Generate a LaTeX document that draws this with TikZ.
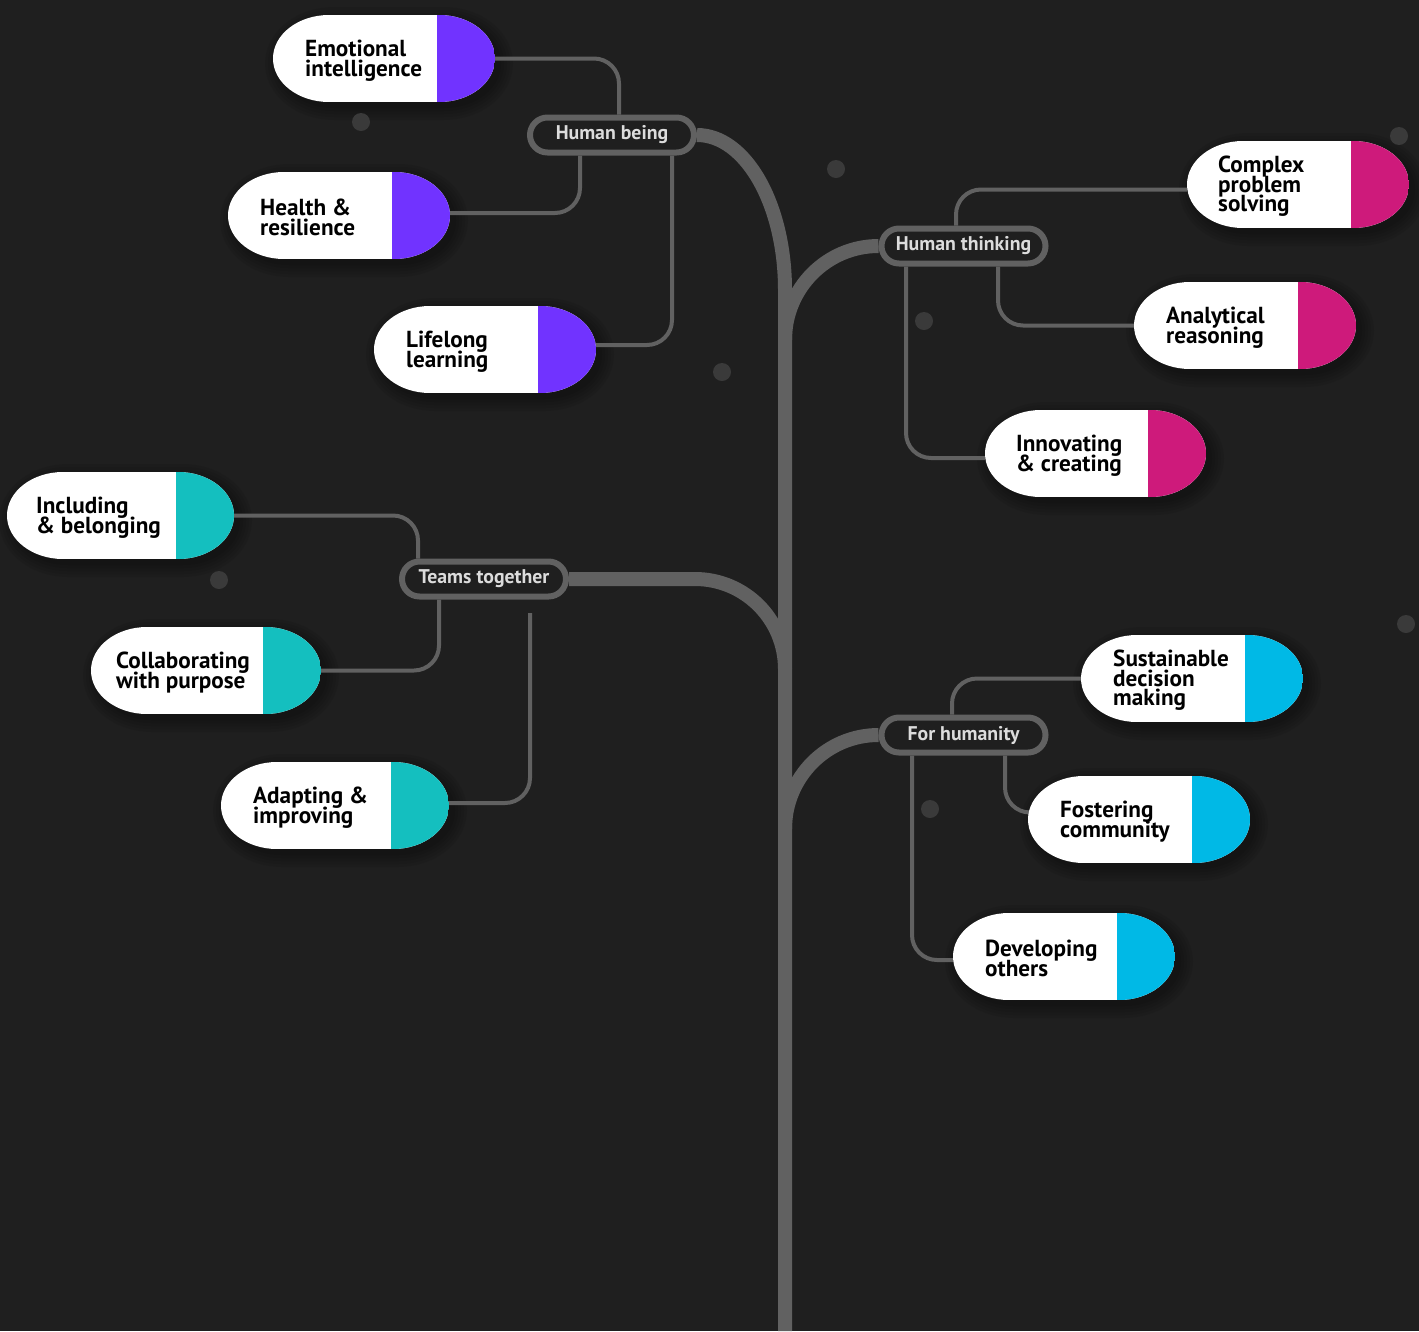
\documentclass[tikz,border=0pt]{standalone}
\usepackage{fontspec}
\setmainfont{PT Sans}
\definecolor{bg}{HTML}{1F1F1F}
\definecolor{ln}{HTML}{616161}
\definecolor{dotc}{HTML}{3A3A3A}
\definecolor{purp}{HTML}{7133FF}
\definecolor{mag}{HTML}{CE1A7B}
\definecolor{tealc}{HTML}{14BFBF}
\definecolor{cyanc}{HTML}{00B9E6}
\definecolor{cattext}{HTML}{DCDCDC}
\pgfdeclarelayer{back}
\pgfdeclarelayer{mid}
\pgfsetlayers{back,mid,main}
\tikzset{
  conn/.style={draw=ln, line width=4pt, rounded corners=25pt},
  trunkline/.style={draw=ln, line width=14pt},
  cat/.style={draw=ln, line width=6pt, fill=bg, rounded corners=17.5pt, minimum width=164pt, minimum height=35pt, inner sep=0pt, text=cattext, font=\bfseries\fontsize{19.8}{22}\selectfont},
  pillbox/.style={minimum width=#1, minimum height=87pt, inner sep=0pt},
  pilltext/.style={align=left, anchor=west, inner sep=0pt, text=black, font=\bfseries\fontsize{23.2}{19.5}\selectfont},
  dot/.style={circle, fill=dotc, minimum size=18pt, inner sep=0pt}
}
\setlength{\lineskiplimit}{-40pt}
\setlength{\lineskip}{0pt}
\newcommand\pillpath[5]{% L T W expand shift
  ({#1+56+#5},{#2-#4+#5}) -- ({#1+#3-56+#5},{#2-#4+#5}) arc[start angle=270,end angle=450,x radius={56+#4},y radius={43.5+#4}] -- ({#1+56+#5},{#2+87+#4+#5}) arc[start angle=90,end angle=270,x radius={56+#4},y radius={43.5+#4}] -- cycle}
\newcommand\pill[7]{%
  \begin{pgfonlayer}{mid}
    \foreach \e in {1,4,7,10,13}{\fill[black,opacity=0.07] \pillpath{#2}{#3}{#4}{\e}{5};}
  \end{pgfonlayer}
  \begin{scope}
    \clip \pillpath{#2}{#3}{#4}{0}{0};
    \fill[white] (#2,#3) rectangle ({#2+#4},{#3+87});
    \fill[#5] ({#2+#4-58},#3) rectangle ({#2+#4},{#3+87});
  \end{scope}
  \node[pillbox=#4] (#1) at ({#2+#4/2},{#3+43.5}) {};
  \node[pilltext] (#1t) at (#6,{#3+45.5}) {#7};
}
\begin{document}
\begin{tikzpicture}[x=1pt,y=-1pt]
\begin{pgfonlayer}{back}
  \fill[bg] (0,0) rectangle (1419,1331);
\end{pgfonlayer}
\useasboundingbox (0,0) rectangle (1419,1331);

% dots
\node[dot] (d1) at (361,122) {};
\node[dot] (d2) at (836,169) {};
\node[dot] (d3) at (722,372) {};
\node[dot] (d4) at (924,321) {};
\node[dot] (d5) at (219,580) {};
\node[dot] (d6) at (930,809) {};
\node[dot] (d7) at (1399,136) {};
\node[dot] (d8) at (1406,624) {};

% category nodes
\node[cat] (hb) at (612,135) {Human being};
\node[cat] (ht) at (963.5,246) {Human thinking};
\node[cat] (tt) at (484,579) {Teams together};
\node[cat] (fh) at (963.5,735) {For humanity};

% pills
\pill{emo}{273}{15}{222}{purp}{305}{Emotional\\intelligence}
\pill{hea}{228}{172}{222}{purp}{260}{Health \&\\resilience}
\pill{lif}{374}{306}{222}{purp}{406}{Lifelong\\learning}
\pill{cps}{1187}{141}{222}{mag}{1218}{Complex\\problem\\solving}
\pill{ana}{1134}{282}{222}{mag}{1166}{Analytical\\reasoning}
\pill{inn}{985}{410}{221}{mag}{1016}{Innovating\\\& creating}
\pill{inc}{7}{472}{227}{tealc}{36}{Including\\\& belonging}
\pill{col}{91}{627}{230}{tealc}{116}{Collaborating\\with purpose}
\pill{ada}{221}{762}{228}{tealc}{253}{Adapting \&\\improving}
\pill{sus}{1081}{635}{222}{cyanc}{1113}{Sustainable\\decision\\making}
\pill{fos}{1028}{776}{222}{cyanc}{1060}{Fostering\\community}
\pill{dev}{953}{913}{222}{cyanc}{985}{Developing\\others}

\coordinate (root) at (785,1331);
\coordinate (adaend) at (530,613);

\begin{pgfonlayer}{mid}
  % trunk and branches
  \draw[trunkline] (hb.east) arc[start angle=270,end angle=360,x radius=88,y radius=155] -- (root);
  \draw[trunkline] (ht.west) arc[start angle=270,end angle=180,x radius=93.5,y radius=94];
  \draw[trunkline] (fh.west) arc[start angle=270,end angle=180,x radius=93.5,y radius=94];
  \draw[trunkline] (tt.east) -- (695,579) arc[start angle=270,end angle=360,radius=90];
  % connectors
  \draw[conn] (emo.east) -| ([xshift=7pt]hb.north);
  \draw[conn] ([yshift=2.5pt]hea.east) -| ([xshift=-32pt]hb.south);
  \draw[conn] ([yshift=4.5pt]lif.east) -| ([xshift=60pt]hb.south);
  \draw[conn] ([yshift=-5pt]cps.west) -| ([xshift=-7.5pt]ht.north);
  \draw[conn] (ana.west) -| ([xshift=34.5pt]ht.south);
  \draw[conn] ([yshift=-4.5pt]inn.west) -| ([xshift=-57.5pt]ht.south);
  \draw[conn] (inc.east) -| ([xshift=-66pt]tt.north);
  \draw[conn] (col.east) -| ([xshift=-45pt]tt.south);
  \draw[conn] ([yshift=2.5pt]ada.east) -| (adaend);
  \draw[conn] (sus.west) -| ([xshift=-11.5pt]fh.north);
  \draw[conn] ([xshift=41.5pt]fh.south) |- ([yshift=7pt]fos.west);
  \draw[conn] ([yshift=-3.5pt]dev.west) -| ([xshift=-51.5pt]fh.south);
\end{pgfonlayer}
\end{tikzpicture}
\end{document}
